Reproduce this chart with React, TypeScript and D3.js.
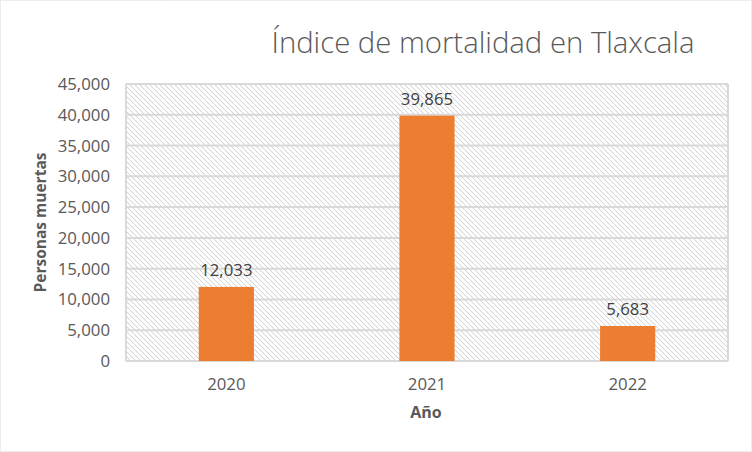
import { useEffect } from 'react';
import * as d3 from 'd3';

const YEARS = ['2020', '2021', '2022'];
const DEATHS = [12033, 39865, 5683];
const Y_TICKS = [0, 5000, 10000, 15000, 20000, 25000, 30000, 35000, 40000, 45000];

const W = 752, H = 452;
const M = { top: 84, right: 24, bottom: 91, left: 126 };
const FONT = '"Open Sans", "Noto Sans", sans-serif';

export default function App() {
  useEffect(() => {
    document.body.style.margin = '0';
  }, []);

  const x = d3.scaleBand<string>().domain(YEARS).range([M.left, W - M.right]).paddingInner(0.725).paddingOuter(0.3625);
  const y = d3.scaleLinear().domain([0, 45000]).range([H - M.bottom, M.top]);
  const fmt = d3.format(',');
  const x0 = M.left, x1 = W - M.right;

  return (
    <svg width={W} height={H} viewBox={`0 0 ${W} ${H}`} style={{ display: 'block', fontFamily: FONT }}>
      <defs>
        <pattern id="hatch" width={5} height={5} patternUnits="userSpaceOnUse">
          <rect width={5} height={5} fill="#ffffff" />
          <path d="M-1,-1 L6,6 M-1,4 L1,6 M4,-1 L6,1" stroke="#cfcfcf" strokeWidth={1.1} strokeDasharray="1 0.5" />
        </pattern>
      </defs>
      <rect x={0.5} y={0.5} width={W - 1} height={H - 1} fill="#ffffff" stroke="#d9d9d9" strokeDasharray="1 1" />

      <text x={483} y={53} textAnchor="middle" fontSize={30} fontWeight={300} fill="#595959" textLength={423} lengthAdjust="spacingAndGlyphs">
        Índice de mortalidad en Tlaxcala
      </text>

      <rect x={x0} y={M.top} width={x1 - x0} height={H - M.bottom - M.top} fill="url(#hatch)" />
      {Y_TICKS.map(t => (
        <line key={t} x1={x0} x2={x1} y1={y(t)} y2={y(t)} stroke="#d9d9d9" strokeWidth={2} />
      ))}
      <line x1={x0} x2={x0} y1={M.top} y2={H - M.bottom} stroke="#d9d9d9" strokeWidth={2} />
      <line x1={x1} x2={x1} y1={M.top} y2={H - M.bottom} stroke="#d9d9d9" strokeWidth={2} />

      {Y_TICKS.map(t => (
        <text key={t} x={110} y={y(t) + 6} textAnchor="end" fontSize={16.8} fill="#595959">{fmt(t)}</text>
      ))}

      {YEARS.map((yr, i) => (
        <g key={yr}>
          <rect x={x(yr)} y={y(DEATHS[i])} width={x.bandwidth()} height={y(0) - y(DEATHS[i])} fill="#ed7d31" />
          <text x={(x(yr) ?? 0) + x.bandwidth() / 2} y={y(DEATHS[i]) - 11} textAnchor="middle" fontSize={16.8} fill="#404040">{fmt(DEATHS[i])}</text>
          <text x={(x(yr) ?? 0) + x.bandwidth() / 2} y={390} textAnchor="middle" fontSize={16.8} fill="#595959">{yr}</text>
        </g>
      ))}

      <text x={426} y={418} textAnchor="middle" fontSize={16} fontWeight={700} fill="#595959">Año</text>
      <text transform={`translate(46,${(M.top + H - M.bottom) / 2}) rotate(-90)`} textAnchor="middle" fontSize={15.5} fontWeight={700} fill="#595959">
        Personas muertas
      </text>
    </svg>
  );
}
